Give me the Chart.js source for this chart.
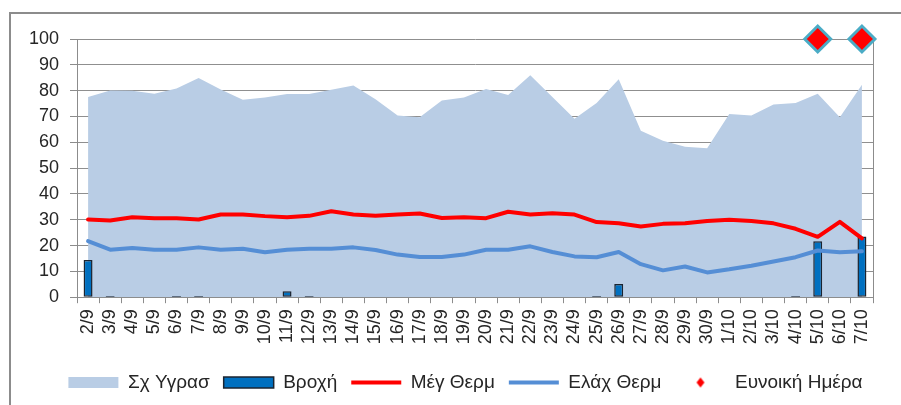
<!DOCTYPE html>
<html><head><meta charset="utf-8">
<script src="https://cdn.jsdelivr.net/npm/chart.js@4.4.1/dist/chart.umd.min.js"></script>
<style>
html,body{margin:0;padding:0;background:#fff;}
#wrap{position:relative;width:901px;height:405px;overflow:hidden;}
#frame{position:absolute;left:9px;top:12px;width:900px;height:400px;border-left:2px solid #8c8c8c;border-top:2px solid #8c8c8c;}
canvas{position:absolute;left:0;top:0;}
</style></head><body>
<div id="wrap"><div id="frame"></div><canvas id="c" width="901" height="405" style="width:901px;height:405px"></canvas></div>
<script>
const days = ['2/9','3/9','4/9','5/9','6/9','7/9','8/9','9/9','10/9','11/9','12/9','13/9','14/9','15/9','16/9','17/9','18/9','19/9','20/9','21/9','22/9','23/9','24/9','25/9','26/9','27/9','28/9','29/9','30/9','1/10','2/10','3/10','4/10','5/10','6/10','7/10'];
const humidity = [77.5,80.1,80,78.8,80.8,84.9,80.4,76.5,77.3,78.7,78.7,80.3,82,76.7,70.4,69.7,76.2,77.3,80.6,78.3,86,77.5,69.1,75.2,84.4,64.5,60.6,58.3,57.7,71,70.4,74.6,75.2,78.8,69.7,82.3];
const rain = [14.4,0.5,0,0,0.5,0.5,0,0,0,2.3,0.5,0,0,0,0,0,0,0,0,0,0,0,0,0.5,5.1,0,0,0,0,0,0,0,0.5,21.7,0,23.5];
const maxTemp = [30.1,29.7,31,30.6,30.6,30.1,32,32,31.4,31,31.5,33.3,32,31.5,32,32.4,30.7,31,30.6,33.1,32,32.5,32,29.1,28.6,27.4,28.4,28.6,29.5,30,29.5,28.6,26.5,23.4,29.2,22.8];
const minTemp = [21.7,18.4,19.1,18.4,18.4,19.3,18.4,18.8,17.4,18.4,18.8,18.8,19.3,18.3,16.5,15.6,15.6,16.5,18.4,18.4,19.7,17.5,15.8,15.5,17.5,12.8,10.4,11.9,9.6,10.8,12.2,13.8,15.5,18.1,17.4,17.8];
const favourable = [null,null,null,null,null,null,null,null,null,null,null,null,null,null,null,null,null,null,null,null,null,null,null,null,null,null,null,null,null,null,null,null,null,100,null,100];
const seriesNames = ['Σχ Υγρασ','Βροχή','Μέγ Θερμ','Ελάχ Θερμ','Ευνοική Ημέρα'];
const yMin = 0, yMax = 100, yStep = 10;

const FONT = "'Liberation Sans', Arial, sans-serif";
const C_HUM = '#B9CDE5', C_RAIN = '#0070C0', C_MAX = '#FF0000', C_MIN = '#558ED5', C_FAV = '#FF0000', C_FAVB = '#4BACC6';

// small diamond for legend
const dia = document.createElement('canvas');
dia.width = 12; dia.height = 12;
(function(){const g=dia.getContext('2d');g.fillStyle=C_FAV;g.beginPath();g.moveTo(6,1);g.lineTo(10,6);g.lineTo(6,11);g.lineTo(2,6);g.closePath();g.fill();})();

const legendItems = [
  {fillStyle:C_HUM, strokeStyle:C_HUM, lineWidth:0, pointStyle:'rect'},
  {fillStyle:C_RAIN, strokeStyle:'#1b2430', lineWidth:1.5, pointStyle:'rect'},
  {fillStyle:C_MAX, strokeStyle:C_MAX, lineWidth:4, pointStyle:'line'},
  {fillStyle:C_MIN, strokeStyle:C_MIN, lineWidth:4, pointStyle:'line'},
  {fillStyle:C_FAV, strokeStyle:C_FAV, lineWidth:0, pointStyle:dia}
];

new Chart(document.getElementById('c'), {
  data: {
    labels: days,
    datasets: [
      {type:'line', label:seriesNames[0], data:humidity, fill:'origin', backgroundColor:C_HUM, borderColor:C_HUM, borderWidth:0, pointRadius:0, tension:0, order:5},
      {type:'bar', label:seriesNames[1], data:rain, backgroundColor:C_RAIN, borderColor:'#1b2430', borderWidth:1.5, borderSkipped:false, barPercentage:0.45, categoryPercentage:0.9, order:4},
      {type:'line', label:seriesNames[2], data:maxTemp, fill:false, borderColor:C_MAX, backgroundColor:C_MAX, borderWidth:4, pointRadius:0, tension:0, borderCapStyle:'round', borderJoinStyle:'round', order:2},
      {type:'line', label:seriesNames[3], data:minTemp, fill:false, borderColor:C_MIN, backgroundColor:C_MIN, borderWidth:4, pointRadius:0, tension:0, borderCapStyle:'round', borderJoinStyle:'round', order:3},
      {type:'line', label:seriesNames[4], data:favourable, showLine:false, pointStyle:'rectRot', pointRadius:13, pointBackgroundColor:C_FAV, pointBorderColor:C_FAVB, pointBorderWidth:3, clip:false, order:1}
    ]
  },
  options: {
    responsive:false, animation:false,
    layout:{padding:{left:30, right:0, top:39, bottom:3}},
    plugins:{
      tooltip:{enabled:false},
      legend:{
        position:'bottom',
        labels:{
          usePointStyle:true, pointStyleWidth:50, boxHeight:11, padding:14,
          color:'#262626', font:{family:FONT, size:19},
          generateLabels(chart){
            return chart.data.datasets.map((ds,i)=>Object.assign({text:ds.label, datasetIndex:i, hidden:false, fontColor:'#262626'}, legendItems[i]));
          }
        }
      }
    },
    scales:{
      x:{
        offset:true,
        grid:{offset:true, drawOnChartArea:false, drawTicks:true, tickLength:6, color:'#8c8c8c'},
        border:{display:true, color:'#8c8c8c', width:1},
        ticks:{autoSkip:false, minRotation:90, maxRotation:90, padding:6, color:'#262626', font:{family:FONT, size:18}},
        afterFit(s){ s.height = 61.8; }
      },
      y:{
        min:yMin, max:yMax,
        ticks:{stepSize:yStep, padding:11, color:'#262626', font:{family:FONT, size:18}},
        grid:{color:'#8f8f8f', borderDash:[1,2], tickColor:'#8c8c8c', tickBorderDash:[], tickLength:7},
        border:{display:true, color:'#8c8c8c', width:1},
        afterFit(s){ s.width = 47; }
      },
      yR:{
        position:'right', min:yMin, max:yMax,
        ticks:{display:false},
        grid:{display:false, drawTicks:false},
        border:{display:true, color:'#8c8c8c', width:1},
        afterFit(s){ s.width = 28; }
      }
    }
  }
});
</script>
</body></html>
